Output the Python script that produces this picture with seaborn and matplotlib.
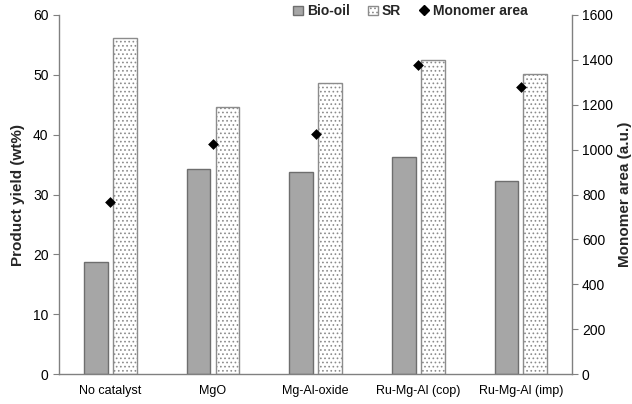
import numpy as np
import pandas as pd
import matplotlib
matplotlib.use("Agg")
import matplotlib.pyplot as plt
from matplotlib.patches import Patch
from matplotlib.lines import Line2D
import seaborn as sns

categories = ["No catalyst", "MgO", "Mg-Al-oxide", "Ru-Mg-Al (cop)", "Ru-Mg-Al (imp)"]
bio_oil = [18.7, 34.2, 33.8, 36.2, 32.3]
sr = [56.2, 44.6, 48.7, 52.5, 50.1]
monomer_area = [766, 1027, 1070, 1377, 1279]
series_names = ["Bio-oil", "SR"]

sns.set_theme(style="white")
plt.rcParams["font.family"] = ["Liberation Sans", "DejaVu Sans"]
plt.rcParams["hatch.linewidth"] = 0.7

yields = pd.DataFrame({
    "catalyst": categories * 2,
    "value": bio_oil + sr,
    "product": [series_names[0]] * len(categories) + [series_names[1]] * len(categories),
})

fig = plt.figure(figsize=(6.32, 4.04), dpi=100)
ax = fig.add_axes([0.0934, 0.074, 0.812, 0.889])

sns.barplot(data=yields, x="catalyst", y="value", hue="product",
            hue_order=series_names, order=categories,
            width=0.564, gap=0.18, ax=ax, legend=False,
            palette=["#a6a6a6", "white"], saturation=1)


def dotted(bar):
    bar.set_facecolor("white")
    bar.set_edgecolor("#8c8c8c")
    bar.set_linewidth(1.0)
    bar.set_hatch("....")
    if hasattr(bar, "set_hatchcolor"):
        bar.set_hatchcolor("#a0a0a0")


bio_bars, sr_bars = ax.containers[0], ax.containers[1]
for bar in bio_bars:
    bar.set_edgecolor("#6e6e6e")
    bar.set_linewidth(1.0)
for bar in sr_bars:
    dotted(bar)

ax.set_xlim(-0.5, len(categories) - 0.5)
ax.set_ylim(0, 60)
ax.set_yticks(np.arange(0, 61, 10))
ax.set_xticks(np.arange(len(categories)))
ax.set_xticklabels(categories)
ax.set_xticks(np.arange(-0.5, len(categories)), minor=True)
ax.tick_params(axis="x", which="major", length=0, pad=8, labelsize=9, colors="black")
ax.tick_params(axis="x", which="minor", length=4, width=0.8, color="#808080", direction="out")
ax.tick_params(axis="y", length=4, width=0.8, color="#808080", direction="out",
               labelsize=10, labelcolor="black", left=True)
ax.set_xlabel("")
ax.set_ylabel("Product yield (wt%)", fontsize=11, fontweight="bold", labelpad=6)

ax2 = ax.twinx()
sns.stripplot(x=categories, y=monomer_area, order=categories, jitter=False,
              marker="D", color="black", size=5.5, ax=ax2, zorder=5)
ax2.set_xlim(-0.5, len(categories) - 0.5)
ax2.set_ylim(0, 1600)
ax2.set_yticks(np.arange(0, 1601, 200))
ax2.tick_params(axis="y", length=4, width=0.8, color="#808080", direction="out",
                labelsize=10, labelcolor="black", right=True, pad=3)
ax2.set_ylabel("Monomer area (a.u.)", fontsize=11, fontweight="bold", labelpad=4)

for a in (ax, ax2):
    a.spines["top"].set_visible(False)
    for side in ("left", "right", "bottom"):
        a.spines[side].set_color("#808080")
        a.spines[side].set_linewidth(1.0)
ax.spines["right"].set_visible(False)
ax2.spines["left"].set_visible(False)
ax2.spines["bottom"].set_visible(False)

sr_handle = Patch(label=series_names[1])
dotted(sr_handle)
handles = [
    Patch(facecolor="#a6a6a6", edgecolor="#6e6e6e", label=series_names[0]),
    sr_handle,
    Line2D([], [], marker="D", color="black", linestyle="none", markersize=5, label="Monomer area"),
]
leg = ax2.legend(handles=handles, loc="center", bbox_to_anchor=(0.685, 1.01), ncol=3,
                 frameon=False, prop={"weight": "bold", "size": 10},
                 handlelength=0.7, handleheight=0.7, handletextpad=0.3, columnspacing=1.3)

fig.savefig("out.png", dpi=100)
